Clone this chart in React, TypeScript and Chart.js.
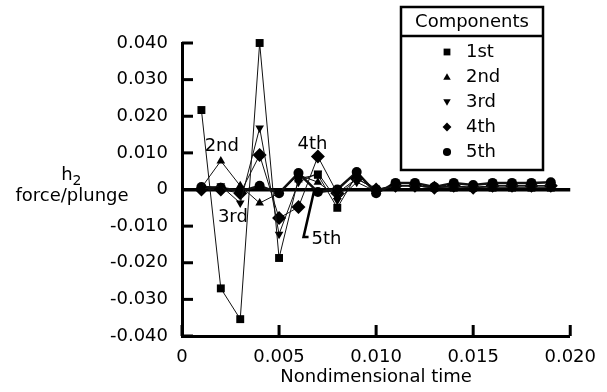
import React, { useEffect, useRef } from "react";
import { Chart, registerables } from "chart.js";

Chart.register(...registerables);

const times = [0.001, 0.002, 0.003, 0.004, 0.005, 0.006, 0.007, 0.008, 0.009, 0.010, 0.011, 0.012, 0.013, 0.014, 0.015, 0.016, 0.017, 0.018, 0.019];
const first = [0.0217, -0.027, -0.0354, 0.040, -0.0187, 0.003, 0.004, -0.005, 0.004, 0.0, 0.001, 0.001, 0.0005, 0.0005, 0.0005, 0.0005, 0.0005, 0.0005, 0.0005];
const second = [0.0005, 0.0078, 0.001, -0.0037, -0.001, 0.004, 0.002, -0.002, 0.003, 0.0, 0.001, 0.001, 0.0005, 0.001, 0.0005, 0.001, 0.001, 0.001, 0.001];
const third = [0.0, 0.001, -0.0037, 0.0168, -0.0122, 0.002, 0.0045, -0.003, 0.002, -0.0005, 0.001, 0.001, 0.0005, 0.001, 0.0005, 0.001, 0.001, 0.001, 0.001];
const fourth = [0.0, 0.0, -0.001, 0.0094, -0.0078, -0.0048, 0.009, -0.001, 0.003, 0.0, 0.001, 0.001, 0.0005, 0.001, 0.0005, 0.001, 0.001, 0.001, 0.001];
const fifth = [0.0007, 0.0005, -0.0005, 0.001, -0.001, 0.0045, -0.0007, 0.0, 0.0048, -0.001, 0.0018, 0.0018, 0.0007, 0.0018, 0.0012, 0.0018, 0.0018, 0.0018, 0.002];

const seriesNames = ["1st", "2nd", "3rd", "4th", "5th"];
const yTicks = [-0.04, -0.03, -0.02, -0.01, 0, 0.01, 0.02, 0.03, 0.04];
const xTicks = [0, 0.005, 0.01, 0.015, 0.02];

const FONT = "DejaVu Sans";

function drawMarker(ctx: CanvasRenderingContext2D, kind: number, x: number, y: number, s: number) {
  ctx.beginPath();
  if (kind === 0) {
    ctx.rect(x - s, y - s, 2 * s, 2 * s);
  } else if (kind === 1) {
    ctx.moveTo(x, y - s * 1.1);
    ctx.lineTo(x + s * 1.1, y + s * 0.8);
    ctx.lineTo(x - s * 1.1, y + s * 0.8);
    ctx.closePath();
  } else if (kind === 2) {
    ctx.moveTo(x, y + s * 1.1);
    ctx.lineTo(x + s * 1.1, y - s * 0.8);
    ctx.lineTo(x - s * 1.1, y - s * 0.8);
    ctx.closePath();
  } else if (kind === 3) {
    ctx.moveTo(x, y - s * 1.3);
    ctx.lineTo(x + s * 1.3, y);
    ctx.lineTo(x, y + s * 1.3);
    ctx.lineTo(x - s * 1.3, y);
    ctx.closePath();
  } else {
    ctx.arc(x, y, s * 1.2, 0, Math.PI * 2);
  }
  ctx.fill();
}

const annotations = [
  { text: "2nd", x: 0.00205, y: 0.0119 },
  { text: "3rd", x: 0.00262, y: -0.0075 },
  { text: "4th", x: 0.00672, y: 0.0122 },
];

const decorPlugin = {
  id: "decor",
  afterDatasetsDraw(chart: any) {
    const ctx = chart.ctx as CanvasRenderingContext2D;
    const xs = chart.scales.x;
    const ys = chart.scales.y;
    const area = chart.chartArea;
    ctx.save();
    // inward ticks
    ctx.strokeStyle = "#000";
    ctx.lineWidth = 3;
    for (const v of yTicks) {
      const py = ys.getPixelForValue(v);
      ctx.beginPath();
      ctx.moveTo(area.left, py);
      ctx.lineTo(area.left + 11, py);
      ctx.stroke();
    }
    for (const v of xTicks) {
      const px = xs.getPixelForValue(v);
      ctx.beginPath();
      ctx.moveTo(px, area.bottom);
      ctx.lineTo(px, area.bottom - 11);
      ctx.stroke();
    }
    // annotations
    ctx.fillStyle = "#000";
    ctx.font = `18px "${FONT}"`;
    ctx.textAlign = "center";
    ctx.textBaseline = "middle";
    for (const a of annotations) {
      ctx.fillText(a.text, xs.getPixelForValue(a.x), ys.getPixelForValue(a.y));
    }
    // 5th leader
    ctx.lineWidth = 2.5;
    ctx.beginPath();
    ctx.moveTo(xs.getPixelForValue(0.0068), ys.getPixelForValue(-0.0005));
    ctx.lineTo(xs.getPixelForValue(0.00626), ys.getPixelForValue(-0.0130));
    ctx.lineTo(xs.getPixelForValue(0.00652), ys.getPixelForValue(-0.0130));
    ctx.stroke();
    ctx.textAlign = "left";
    ctx.fillText("5th", xs.getPixelForValue(0.00667), ys.getPixelForValue(-0.0137));

    // y axis title
    ctx.textAlign = "center";
    ctx.font = `18px "${FONT}"`;
    ctx.fillText("force/plunge", 72, 196);
    ctx.fillText("h", 67, 175);
    ctx.font = `14px "${FONT}"`;
    ctx.fillText("2", 77, 181);

    // legend
    const L = 401, T = 7, R = 543, B = 170;
    ctx.fillStyle = "#fff";
    ctx.fillRect(L, T, R - L, B - T);
    ctx.strokeStyle = "#000";
    ctx.lineWidth = 2.5;
    ctx.strokeRect(L, T, R - L, B - T);
    ctx.beginPath();
    ctx.moveTo(L, 36);
    ctx.lineTo(R, 36);
    ctx.stroke();
    ctx.fillStyle = "#000";
    ctx.font = `18px "${FONT}"`;
    ctx.textAlign = "center";
    ctx.fillText("Components", (L + R) / 2, 22);
    ctx.textAlign = "left";
    chart.data.datasets.forEach((ds: any, i: number) => {
      const yy = 52 + i * 25;
      drawMarker(ctx, i, 447, yy, 3.4);
      ctx.fillText(ds.label, 466, yy);
    });
    ctx.restore();
  },
};

export default function App() {
  const ref = useRef<HTMLCanvasElement | null>(null);
  useEffect(() => {
    if (!ref.current) return;
    const series = [first, second, third, fourth, fifth];
    const styles = [
      { pointStyle: "rect", pointRadius: 5.6, pointRotation: 0 },
      { pointStyle: "triangle", pointRadius: 5, pointRotation: 0 },
      { pointStyle: "triangle", pointRadius: 5, pointRotation: 180 },
      { pointStyle: "rectRot", pointRadius: 7, pointRotation: 0 },
      { pointStyle: "circle", pointRadius: 5, pointRotation: 0 },
    ];
    const chart = new Chart(ref.current, {
      type: "line",
      data: {
        datasets: series.map((vals, i) => ({
          label: seriesNames[i],
          data: times.map((t, j) => ({ x: t, y: vals[j] })),
          borderColor: "#111",
          backgroundColor: "#000",
          borderWidth: i === 4 ? 2.5 : 1,
          pointBorderWidth: 0,
          pointBackgroundColor: "#000",
          clip: false as any,
          tension: 0,
          ...styles[i],
        })),
      },
      options: {
        animation: false,
        responsive: false,
        events: [],
        layout: { padding: { left: 0, top: 43, right: 35, bottom: 0 } },
        plugins: { legend: { display: false }, tooltip: { enabled: false } },
        scales: {
          x: {
            type: "linear",
            min: 0,
            max: 0.02,
            afterFit: (s: any) => { s.height = 56; },
            afterBuildTicks: (s: any) => { s.ticks = xTicks.map((v) => ({ value: v })); },
            ticks: {
              padding: 11,
              color: "#000",
              font: { family: FONT, size: 18 },
              maxRotation: 0,
              autoSkip: false,
              callback: (v: any) => (Math.abs(v) < 1e-9 ? "0" : Number(v).toFixed(3)),
            },
            grid: { display: true, drawOnChartArea: false, drawTicks: false, color: "rgba(0,0,0,0)", lineWidth: 0 },
            border: { display: true, color: "#000", width: 3 },
            title: {
              display: true,
              text: "Nondimensional time",
              color: "#000",
              font: { family: FONT, size: 18 },
              padding: { top: 0, bottom: 4 },
            },
          },
          y: {
            type: "linear",
            min: -0.04,
            max: 0.04,
            afterFit: (s: any) => { s.width = 182; },
            afterBuildTicks: (s: any) => { s.ticks = yTicks.map((v) => ({ value: v })); },
            ticks: {
              padding: 14,
              color: "#000",
              font: { family: FONT, size: 18 },
              autoSkip: false,
              callback: (v: any) => (Math.abs(v) < 1e-9 ? "0" : Number(v).toFixed(3)),
            },
            grid: {
              display: true,
              drawTicks: false,
              color: (c: any) => (c.tick && Math.abs(c.tick.value) < 1e-9 ? "#000" : "rgba(0,0,0,0)"),
              lineWidth: (c: any) => (c.tick && Math.abs(c.tick.value) < 1e-9 ? 3.5 : 0),
            },
            border: { display: true, color: "#000", width: 3 },
          },
        },
      },
      plugins: [decorPlugin],
    } as any);
    return () => chart.destroy();
  }, []);
  return (
    <div style={{ position: "fixed", left: 0, top: 0, width: 607, height: 392, background: "#fff" }}>
      <canvas ref={ref} width={607} height={392} style={{ width: 607, height: 392, display: "block" }} />
    </div>
  );
}
